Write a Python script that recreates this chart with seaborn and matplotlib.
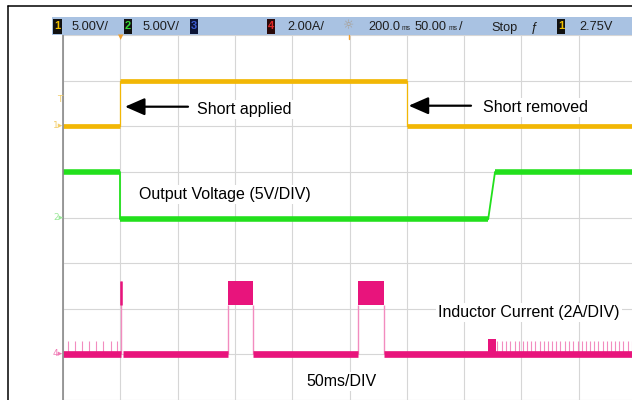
import numpy as np
import pandas as pd
import matplotlib
matplotlib.use("Agg")
import matplotlib.pyplot as plt
from matplotlib.patches import Rectangle
from matplotlib.lines import Line2D
import seaborn as sns

# ---------------- data (time in ms, amplitude in screen divisions) ----------------
yellow_t = [0, 50, 50, 300, 300, 500]
yellow_v = [6.0, 6.0, 7.0, 7.0, 6.0, 6.0]

green_t = [0, 50, 50, 371, 377, 500]
green_v = [5.0, 5.0, 3.96, 3.96, 5.0, 5.0]

mag_base_start = [0, 52, 166, 280.4]
mag_base_end = [50.6, 143.7, 257.4, 500]
mag_base_level = 1.0
pulse_start = [143.7, 257.4]
pulse_end = [166.0, 280.4]
pulse_low = 2.08
pulse_high = 2.61
spike_t = [50.6]
spike_top = [2.6]
ripple_t = [4.6, 10.5, 16.2, 22.9, 28.8, 35.2, 41.6, 47.4,
            379, 383, 386.5, 390, 394, 397.5, 401, 405, 408.5, 412, 416, 419.5,
            423, 427, 430.5, 434, 438, 441.5, 445, 449, 452.5, 456, 460, 463.5,
            467, 471, 474.5, 478, 482, 485.5, 489, 493, 496.5]
ripple_top = 1.3
bump_t = [371, 378]
bump_top = 1.33

x_ticks = list(range(0, 501, 50))
y_ticks = list(range(0, 9))

YEL = "#f2b705"
GRN = "#22e01c"
MAG = "#e8147c"
PINK = "#f28cbf"

# ---------------- figure ----------------
sns.set_style("white")
plt.rcParams["font.family"] = ["Liberation Sans", "DejaVu Sans"]

W, H = 632, 400
fig = plt.figure(figsize=(W / 100, H / 100), dpi=100)


def fx(px):
    return px / W


def fy(py):
    return 1 - py / H


ax = fig.add_axes([fx(63), 0, 573 / W, 365 / H])


def split_trace(t, v):
    flat, edge = [], []
    for i in range(len(t) - 1):
        rows = flat if v[i] == v[i + 1] else edge
        rows.append((t[i], v[i], i))
        rows.append((t[i + 1], v[i + 1], i))
    cols = ["t", "v", "seg"]
    return pd.DataFrame(flat, columns=cols), pd.DataFrame(edge, columns=cols)


# yellow
yf, ye = split_trace(yellow_t, yellow_v)
sns.lineplot(data=ye, x="t", y="v", units="seg", estimator=None, sort=False,
             color=YEL, lw=0.9, ax=ax)
sns.lineplot(data=yf, x="t", y="v", units="seg", estimator=None, sort=False,
             color=YEL, lw=3.4, solid_capstyle="butt", ax=ax)

# green
gf, ge = split_trace(green_t, green_v)
sns.lineplot(data=ge, x="t", y="v", units="seg", estimator=None, sort=False,
             color=GRN, lw=1.3, ax=ax)
sns.lineplot(data=gf, x="t", y="v", units="seg", estimator=None, sort=False,
             color=GRN, lw=4.0, solid_capstyle="butt", ax=ax)

# magenta: ripple ticks, edges, spike
ax.vlines(ripple_t, mag_base_level, ripple_top, color=PINK, lw=0.8)
ax.vlines(pulse_start + pulse_end, mag_base_level, pulse_low, color=PINK, lw=1.0)
ax.vlines(spike_t, mag_base_level, spike_top, color=PINK, lw=1.0)
ax.vlines(spike_t, pulse_low, spike_top, color=MAG, lw=1.8)

base_rows = []
for i, (s, e) in enumerate(zip(mag_base_start, mag_base_end)):
    base_rows += [(s, mag_base_level, i), (e, mag_base_level, i)]
base_df = pd.DataFrame(base_rows, columns=["t", "v", "seg"])
sns.lineplot(data=base_df, x="t", y="v", units="seg", estimator=None, sort=False,
             color=MAG, lw=4.8, solid_capstyle="butt", ax=ax)

for s, e in zip(pulse_start, pulse_end):
    ax.fill_between([s, e], pulse_low, pulse_high, color=MAG, lw=0)
ax.fill_between(bump_t, mag_base_level, bump_top, color=MAG, lw=0)

# axes styling (after seaborn so its labels are cleared)
ax.set_xlim(0, 500)
ax.set_ylim(0, 8)
ax.set_xticks(x_ticks)
ax.set_yticks(y_ticks)
ax.set_xticklabels([])
ax.set_yticklabels([])
ax.tick_params(length=0)
ax.grid(True, color="#d6d6d6", lw=0.8)
ax.set_axisbelow(True)
for s in ["top", "right", "bottom"]:
    ax.spines[s].set_visible(False)
ax.spines["left"].set_color("#8a8a8a")
ax.spines["left"].set_linewidth(1.2)
ax.set_xlabel("")
ax.set_ylabel("")

# ---------------- frame lines ----------------
fig.add_artist(Line2D([fx(8), fx(632)], [fy(6), fy(6)], color="black", lw=1.1))
fig.add_artist(Line2D([fx(8), fx(8)], [fy(6), fy(400)], color="black", lw=1.1))

# ---------------- header bar ----------------
fig.add_artist(Rectangle((fx(52), fy(35)), fx(632) - fx(52), (35 - 17) / H,
                         transform=fig.transFigure, facecolor="#a9c2e2",
                         edgecolor="none"))


def badge(x0, x1, label, box, fg):
    fig.add_artist(Rectangle((fx(x0), fy(33.5)), (x1 - x0) / W, 15 / H,
                             transform=fig.transFigure, facecolor=box,
                             edgecolor="none"))
    fig.text(fx((x0 + x1) / 2), fy(26), label, color=fg, fontsize=8,
             fontweight="bold", ha="center", va="center")


HDR = dict(fontsize=9.2, color="#1e1e1e", ha="left", va="baseline")
SMALL = dict(fontsize=4.8, color="#1e1e1e", ha="left", va="baseline")
badge(53, 62, "1", "#111111", "#f0c000")
fig.text(fx(72), fy(30.5), "5.00V/", **HDR)
badge(124, 132, "2", "#111111", "#36d936")
fig.text(fx(143), fy(30.5), "5.00V/", **HDR)
badge(190, 198, "3", "#0c1436", "#3b5bd0")
badge(267, 275, "4", "#2a0a0a", "#e02828")
fig.text(fx(287), fy(30.5), "2.00A/", **HDR)
fig.text(fx(349), fy(26), "☼", fontsize=9, color="#a89a8a", ha="center",
         va="center", family="DejaVu Sans")
fig.text(fx(368), fy(30.5), "200.0", **HDR)
fig.text(fx(401.5), fy(30.5), "ms", **SMALL)
fig.text(fx(415), fy(30.5), "50.00", **HDR)
fig.text(fx(448.5), fy(30.5), "ms", **SMALL)
fig.text(fx(459), fy(30.5), "/", **HDR)
fig.text(fx(491), fy(30.5), "Stop", **HDR)
fig.text(fx(534), fy(30.5), "ƒ", fontsize=9.4, color="#1e1e1e", ha="center",
         va="baseline")
badge(557, 565, "1", "#111111", "#f0c000")
fig.text(fx(579), fy(30.5), "2.75V", **HDR)

# trigger / reference markers
fig.text(fx(121), fy(37), "▼", fontsize=5, color="#f0a030", ha="center",
         va="center", family="DejaVu Sans")
fig.add_artist(Line2D([fx(349), fx(349)], [fy(35), fy(39)], color="#f0a030", lw=1))

# channel markers
MK = dict(fontsize=6.5, ha="right", va="center", family="DejaVu Sans")
fig.text(fx(62), fy(100), "T", color="#f3cd6a", **MK)
fig.text(fx(63), fy(126), "1▸", color="#f3cd6a", **MK)
fig.text(fx(63), fy(217), "2▸", color="#9be89a", **MK)
fig.text(fx(63), fy(354), "4▸", color="#f07ab5", **MK)

# ---------------- annotations ----------------
ANN = dict(fontsize=11.5, color="black", ha="left", va="baseline",
           bbox=dict(facecolor="white", edgecolor="none", pad=1.5))
fig.text(fx(197), fy(114.3), "Short applied", **ANN)
fig.text(fx(482.7), fy(111.7), "Short removed", **ANN)
fig.text(fx(139.3), fy(199.3), "Output Voltage (5V/DIV)", **ANN)
fig.text(fx(438), fy(316.7), "Inductor Current (2A/DIV)", **ANN)
fig.text(fx(306.7), fy(386), "50ms/DIV", **ANN)

ARW = dict(arrowstyle="-|>,head_length=0.8,head_width=0.35", color="black",
           lw=1.6, shrinkA=0, shrinkB=0, mutation_scale=15)
ax.annotate("", xy=(fx(125), fy(106.7)), xytext=(fx(188), fy(106.7)),
            xycoords="figure fraction", textcoords="figure fraction",
            arrowprops=ARW)
ax.annotate("", xy=(fx(408.7), fy(105.7)), xytext=(fx(471), fy(105.7)),
            xycoords="figure fraction", textcoords="figure fraction",
            arrowprops=ARW)

fig.savefig("out.png", dpi=100)
